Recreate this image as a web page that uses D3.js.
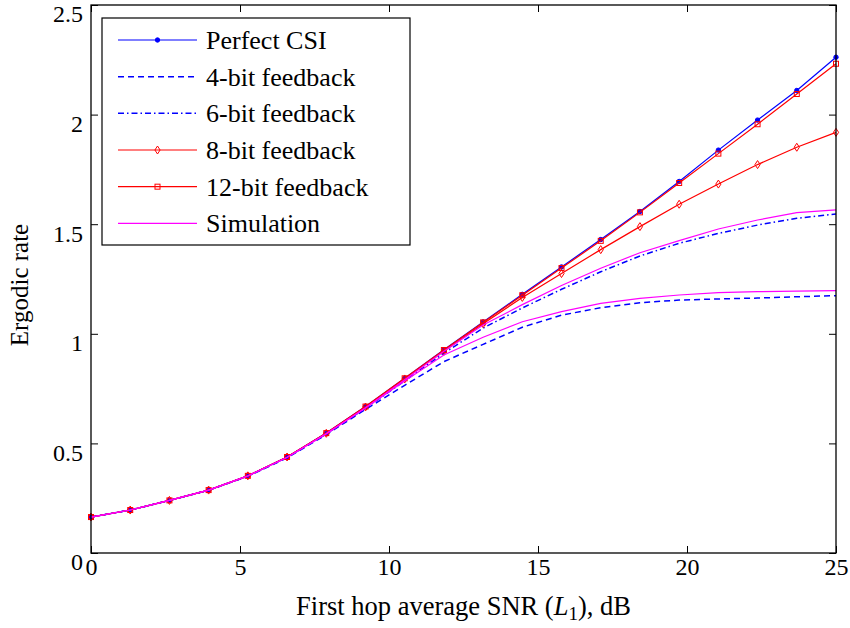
<!DOCTYPE html>
<html>
<head>
<meta charset="utf-8">
<script src="https://cdn.jsdelivr.net/npm/d3@7"></script>
<style>
    body { margin: 0; background: #fff; }
    svg text { font-family: "Liberation Serif", "Times New Roman", serif; fill: #000; }
</style>
</head>
<body>
<svg id="chart" width="850" height="628"></svg>
<script>
// SNR points (dB)
var snr = [0, 1.316, 2.632, 3.947, 5.263, 6.579, 7.895, 9.211, 10.526, 11.842,
           13.158, 14.474, 15.789, 17.105, 18.421, 19.737, 21.053, 22.368, 23.684, 25];

var perfectCsi = [0.164, 0.196, 0.240, 0.287, 0.352, 0.438, 0.547, 0.668, 0.797, 0.927,
                  1.054, 1.180, 1.305, 1.430, 1.558, 1.695, 1.838, 1.975, 2.110, 2.262];
var bit4 = [0.164, 0.196, 0.240, 0.286, 0.350, 0.434, 0.540, 0.655, 0.765, 0.873,
            0.952, 1.030, 1.085, 1.119, 1.142, 1.154, 1.159, 1.163, 1.169, 1.174];
var bit6 = [0.164, 0.196, 0.240, 0.287, 0.351, 0.436, 0.543, 0.660, 0.785, 0.912,
            1.026, 1.118, 1.203, 1.283, 1.355, 1.413, 1.458, 1.496, 1.527, 1.547];
var bit8 = [0.164, 0.196, 0.240, 0.287, 0.352, 0.438, 0.546, 0.666, 0.794, 0.920,
            1.046, 1.166, 1.275, 1.384, 1.489, 1.591, 1.683, 1.772, 1.851, 1.919];
var bit12 = [0.164, 0.196, 0.240, 0.287, 0.352, 0.438, 0.547, 0.668, 0.797, 0.926,
             1.052, 1.176, 1.300, 1.424, 1.554, 1.688, 1.822, 1.956, 2.094, 2.232];
var sim4 = [0.164, 0.196, 0.240, 0.287, 0.351, 0.436, 0.543, 0.662, 0.785, 0.903,
            0.984, 1.055, 1.101, 1.139, 1.162, 1.177, 1.188, 1.192, 1.195, 1.197];
var sim6 = [0.164, 0.196, 0.240, 0.287, 0.352, 0.437, 0.545, 0.663, 0.790, 0.920,
            1.040, 1.133, 1.220, 1.299, 1.370, 1.425, 1.478, 1.519, 1.553, 1.565];

var xTicks = [0, 5, 10, 15, 20, 25];
var yTicks = [0, 0.5, 1, 1.5, 2, 2.5];
var legendNames = ["Perfect CSI", "4-bit feedback", "6-bit feedback", "8-bit feedback", "12-bit feedback", "Simulation"];

var margin = {left: 91, right: 14, top: 5, bottom: 75};
var width = 850 - margin.left - margin.right;
var height = 628 - margin.top - margin.bottom;

var svg = d3.select("#chart");
var g = svg.append("g").attr("transform", "translate(" + margin.left + "," + margin.top + ")");

var x = d3.scaleLinear().domain([0, 25]).range([0, width]);
var y = d3.scaleLinear().domain([0, 2.5]).range([height, 0]);

// series definitions (style only; values come from arrays above)
var series = [
    {name: legendNames[0], values: perfectCsi, color: "#0000ff", dash: null, marker: "dot"},
    {name: legendNames[1], values: bit4, color: "#0000ff", dash: "6,4", marker: null, w: 1.5},
    {name: legendNames[2], values: bit6, color: "#0000ff", dash: "6,3,1.5,3", marker: null, w: 1.5},
    {name: legendNames[3], values: bit8, color: "#ff0000", dash: null, marker: "diamond"},
    {name: legendNames[4], values: bit12, color: "#ff0000", dash: null, marker: "square"},
    {name: legendNames[5], values: sim4, color: "#ff00ff", dash: null, marker: null},
    {name: null, values: sim6, color: "#ff00ff", dash: null, marker: null}
];

var line = d3.line()
    .x(function(d, i) { return x(snr[i]); })
    .y(function(d) { return y(d); });

function drawMarker(sel, type, color) {
    if (type === "dot") {
        sel.append("circle").attr("r", 2.2).attr("fill", color).attr("stroke", color);
    } else if (type === "diamond") {
        sel.append("path").attr("d", "M0,-4L2.6,0L0,4L-2.6,0Z")
            .attr("fill", "none").attr("stroke", color).attr("stroke-width", 1);
    } else if (type === "square") {
        sel.append("rect").attr("x", -2.5).attr("y", -2.5).attr("width", 5).attr("height", 5)
            .attr("fill", "none").attr("stroke", color).attr("stroke-width", 1);
    }
}

// plot lines
series.forEach(function(s) {
    g.append("path")
        .datum(s.values)
        .attr("d", line)
        .attr("fill", "none")
        .attr("stroke", s.color)
        .attr("stroke-width", s.w || 1.2)
        .attr("stroke-dasharray", s.dash);

    if (s.marker) {
        g.selectAll(null)
            .data(s.values)
            .enter()
            .append("g")
            .attr("transform", function(d, i) { return "translate(" + x(snr[i]) + "," + y(d) + ")"; })
            .each(function() { drawMarker(d3.select(this), s.marker, s.color); });
    }
});

// axes box
g.append("rect")
    .attr("width", width).attr("height", height)
    .attr("fill", "none").attr("stroke", "#000").attr("stroke-width", 1.3);

var tickLen = 7;
var xAxis = d3.axisBottom(x).tickValues(xTicks).tickSize(-tickLen).tickPadding(5).tickFormat(d3.format("d"));
var yAxis = d3.axisLeft(y).tickValues(yTicks).tickSize(-tickLen).tickPadding(8).tickFormat(function(d) { return d; });

var xg = g.append("g").attr("transform", "translate(0," + height + ")").call(xAxis);
var yg = g.append("g").call(yAxis);
g.append("g").call(d3.axisTop(x).tickValues(xTicks).tickSize(-tickLen).tickFormat(""));
g.append("g").attr("transform", "translate(" + width + ",0)")
    .call(d3.axisRight(y).tickValues(yTicks).tickSize(-tickLen).tickFormat(""));

svg.selectAll(".domain").remove();
svg.selectAll(".tick line").attr("stroke", "#000").attr("stroke-width", 1);
xg.selectAll("text").style("font-size", "24px");
yg.selectAll("text").style("font-size", "24px").attr("dy", "0.7em");

// axis titles
var xt = svg.append("text")
    .attr("x", margin.left + width / 2)
    .attr("y", 615)
    .attr("text-anchor", "middle")
    .style("font-size", "26.5px");
xt.append("tspan").text("First hop average SNR (");
xt.append("tspan").style("font-style", "italic").text("L");
xt.append("tspan").attr("dy", 5).style("font-size", "19px").text("1");
xt.append("tspan").attr("dy", -5).text("), dB");

svg.append("text")
    .attr("transform", "translate(28,285) rotate(-90)")
    .attr("text-anchor", "middle")
    .style("font-size", "25px")
    .text("Ergodic rate");

// legend
var legend = svg.append("g").attr("transform", "translate(102,18)");
legend.append("rect")
    .attr("width", 308).attr("height", 227)
    .attr("fill", "#fff").attr("stroke", "#000").attr("stroke-width", 1.2);

var rowH = 36.67;
series.filter(function(s) { return s.name; }).forEach(function(s, i) {
    var row = legend.append("g").attr("transform", "translate(0," + (22 + i * rowH) + ")");
    row.append("line")
        .attr("x1", 16).attr("x2", 95)
        .attr("stroke", s.color)
        .attr("stroke-width", s.w || 1.2)
        .attr("stroke-dasharray", s.dash);
    if (s.marker) {
        var m = row.append("g").attr("transform", "translate(55.5,0)");
        drawMarker(m, s.marker, s.color);
    }
    row.append("text")
        .attr("x", 104)
        .attr("dy", "0.35em")
        .style("font-size", "26px")
        .text(s.name);
});
</script>
</body>
</html>
